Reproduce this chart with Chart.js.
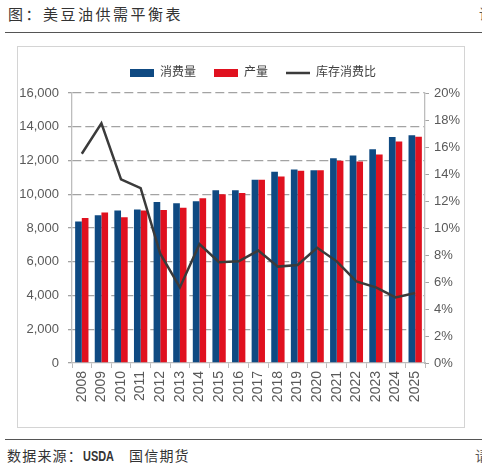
<!DOCTYPE html>
<html>
<head>
<meta charset="utf-8">
<script src="https://cdn.jsdelivr.net/npm/chart.js@4"></script>
<style>
    html, body { margin: 0; padding: 0; background: #fff; }
    body { width: 482px; height: 469px; position: relative; overflow: hidden; }
    .title { position: absolute; left: 8px; top: 5px; font: 15px/17px "Noto Sans CJK SC", sans-serif; letter-spacing: 2.5px; color: #333; white-space: nowrap; }
    .rule { position: absolute; left: 5px; right: 0; height: 0; border-top: 1.5px solid #555; }
    .box { position: absolute; left: 17px; top: 46px; width: 446px; height: 380px; border: 1px solid #d4d4d4; }
    .source { position: absolute; left: 7px; top: 447px; font: 14px/17px "Noto Sans CJK SC", sans-serif; letter-spacing: 1.2px; color: #333; white-space: pre; }
    .source b { display: inline-block; font: bold 14px/17px "Liberation Sans", sans-serif; letter-spacing: 0; transform: scaleX(0.78); transform-origin: left; width: 28px; margin-right: 18px; }
    .edge { position: absolute; font: 14px/17px "Noto Sans CJK SC", sans-serif; color: #555; }
    #chart { position: absolute; left: 0; top: 0; }
</style>
</head>
<body>
<div class="title">图：美豆油供需平衡表</div>
<div class="edge" style="top:5px;left:479px">请</div>
<div class="rule" style="top:32px"></div>
<div class="box"></div>
<div class="rule" style="top:439px"></div>
<div class="source">数据来源：<b>USDA</b>国信期货</div>
<div class="edge" style="top:447px;left:475px">请</div>
<canvas id="chart" width="482" height="469"></canvas>
<script>
// 年份
const years = ['2008', '2009', '2010', '2011', '2012', '2013', '2014', '2015', '2016',
    '2017', '2018', '2019', '2020', '2021', '2022', '2023', '2024', '2025'];

// 消费量 / 产量（千吨）
const consumption = [8390, 8750, 9030, 9100, 9540, 9460, 9580, 10230, 10230,
    10860, 11340, 11460, 11420, 12140, 12300, 12670, 13400, 13490];
const production = [8590, 8920, 8630, 9030, 9060, 9200, 9760, 10000, 10070,
    10860, 11050, 11390, 11420, 11980, 11940, 12360, 13130, 13410];

// 库存消费比（%）
const stockRatio = [15.5, 17.75, 13.6, 12.96, 8.1, 5.6, 8.8, 7.46, 7.53,
    8.33, 7.14, 7.26, 8.53, 7.53, 6.05, 5.6, 4.86, 5.18];

// 坐标轴刻度
const leftTicks = { min: 0, max: 16000, step: 2000 };
const rightTicks = { min: 0, max: 20, step: 2 };

Chart.defaults.font.family = 'Arial, "Liberation Sans", "Noto Sans CJK SC", sans-serif';
Chart.defaults.color = '#595959';

const axisColor = '#bdbdbd';
const gridColor = '#a3a3a3';

// legend 和图表区之间多留一点空隙，并稍微往右挪
const legendTweak = {
    id: 'legendTweak',
    beforeInit(chart) {
        const fit = chart.legend.fit;
        chart.legend.fit = function() {
            fit.call(this);
            this.height += 4;
        };
    },
    afterLayout(chart) {
        chart.legend.left += 12;
        chart.legend.right += 12;
    }
};

const ctx = document.getElementById('chart').getContext('2d');
const chart = new Chart(ctx, {
    type: 'bar',
    data: {
        labels: years,
        datasets: [
            {
                label: '消费量',
                data: consumption,
                backgroundColor: '#0f4a82',
                pointStyle: 'rect',
                order: 1,
                categoryPercentage: 0.68,
                barPercentage: 1.0
            },
            {
                label: '产量',
                data: production,
                backgroundColor: '#e0111f',
                pointStyle: 'rect',
                order: 1,
                categoryPercentage: 0.68,
                barPercentage: 1.0
            },
            {
                type: 'line',
                label: '库存消费比',
                data: stockRatio,
                yAxisID: 'y1',
                borderColor: '#3b3b3b',
                backgroundColor: '#3b3b3b',
                borderWidth: 2.5,
                pointRadius: 0,
                pointStyle: 'line',
                tension: 0,
                order: 0
            }
        ]
    },
    options: {
        responsive: false,
        animation: false,
        layout: {
            padding: { left: 18, right: 18, top: 49, bottom: 42 }
        },
        plugins: {
            legend: {
                display: true,
                position: 'top',
                labels: {
                    usePointStyle: true,
                    pointStyleWidth: 24,
                    boxHeight: 8,
                    padding: 18,
                    color: '#404040',
                    font: { size: 12 },
                    sort: (a, b) => a.datasetIndex - b.datasetIndex
                }
            },
            tooltip: { enabled: false }
        },
        scales: {
            x: {
                grid: {
                    display: true,
                    drawOnChartArea: false,
                    drawTicks: true,
                    tickLength: 5,
                    color: axisColor
                },
                border: { display: true, color: axisColor, width: 1.3 },
                ticks: {
                    autoSkip: false,
                    minRotation: 90,
                    maxRotation: 90,
                    padding: 3,
                    font: { size: 14 }
                },
                afterFit: function(scale) {
                    scale.height = 64;
                }
            },
            y: {
                position: 'left',
                min: leftTicks.min,
                max: leftTicks.max,
                grid: {
                    color: (c) => c.tick && c.tick.value === 0 ? 'rgba(0,0,0,0)' : gridColor,
                    lineWidth: 1.3,
                    tickLength: 4,
                    tickColor: gridColor,
                    tickBorderDash: []
                },
                border: { display: true, color: axisColor, width: 1.3, dash: [9, 4] },
                ticks: {
                    stepSize: leftTicks.step,
                    padding: 9,
                    font: { size: 13 },
                    callback: function(value) {
                        return value.toLocaleString('en-US');
                    }
                },
                afterFit: function(scale) {
                    scale.width = 54;
                }
            },
            y1: {
                position: 'right',
                min: rightTicks.min,
                max: rightTicks.max,
                grid: {
                    drawOnChartArea: false,
                    drawTicks: true,
                    tickLength: 4,
                    tickColor: gridColor
                },
                border: { display: true, color: axisColor, width: 1.3 },
                ticks: {
                    stepSize: rightTicks.step,
                    padding: 5,
                    font: { size: 13 },
                    callback: function(value) {
                        return value + '%';
                    }
                },
                afterFit: function(scale) {
                    scale.width = 39;
                }
            }
        }
    },
    plugins: [legendTweak]
});
</script>
</body>
</html>
